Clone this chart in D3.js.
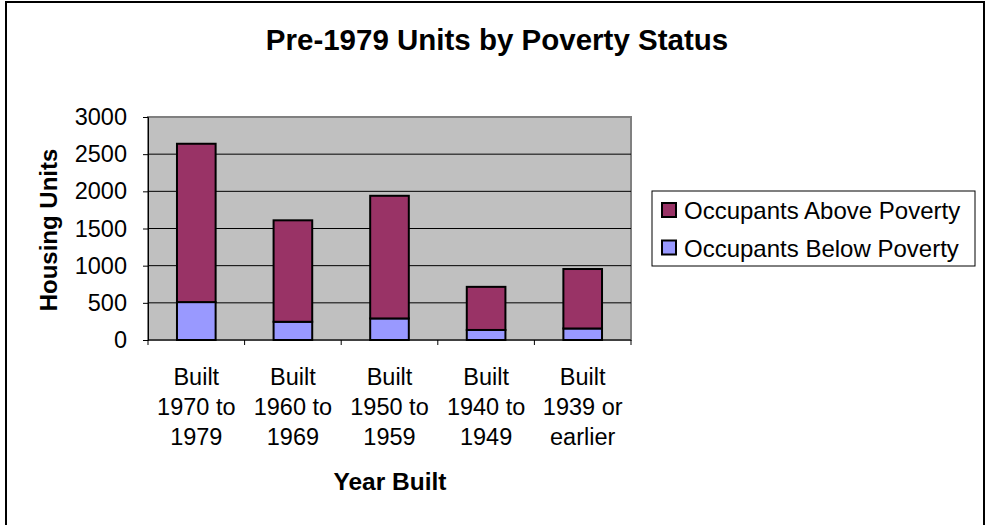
<!DOCTYPE html>
<html>
<head>
<meta charset="utf-8">
<script src="https://cdn.jsdelivr.net/npm/d3@7"></script>
<style>
  body { margin: 0; background: #fff; }
  text { font-family: Arial, "Liberation Sans", sans-serif; fill: #000; }
</style>
</head>
<body>
<script>
// chart data
const categories = ['Built 1970 to 1979', 'Built 1960 to 1969', 'Built 1950 to 1959', 'Built 1940 to 1949', 'Built 1939 or earlier'];
const categoryLines = [
  ['Built', '1970 to', '1979'],
  ['Built', '1960 to', '1969'],
  ['Built', '1950 to', '1959'],
  ['Built', '1940 to', '1949'],
  ['Built', '1939 or', 'earlier']
];
const belowPoverty = [510, 245, 290, 135, 155];
const abovePoverty = [2130, 1365, 1650, 580, 800];
const seriesNames = ['Occupants Above Poverty', 'Occupants Below Poverty'];
const yTicks = [0, 500, 1000, 1500, 2000, 2500, 3000];

const W = 989, H = 525;
const plot = { left: 148, right: 631, top: 117, bottom: 340 };

const svg = d3.select('body')
  .append('svg')
  .attr('width', W)
  .attr('height', H);

// outer frame
svg.append('rect')
  .attr('x', 6).attr('y', 2)
  .attr('width', 978).attr('height', H + 10)
  .attr('fill', '#fff')
  .attr('stroke', '#000')
  .attr('stroke-width', 2);

// scales
const x = d3.scaleBand()
  .domain(categories)
  .range([plot.left, plot.right])
  .paddingInner(0.6)
  .paddingOuter(0.3);

const xEdge = d3.scaleLinear()
  .domain([0, categories.length])
  .range([plot.left, plot.right]);

const y = d3.scaleLinear()
  .domain([0, 3000])
  .range([plot.bottom, plot.top]);

// plot area
svg.append('rect')
  .attr('x', plot.left).attr('y', plot.top)
  .attr('width', plot.right - plot.left)
  .attr('height', plot.bottom - plot.top)
  .attr('fill', '#C0C0C0')
  .attr('stroke', '#808080')
  .attr('stroke-width', 2);

// gridlines
svg.append('g')
  .selectAll('line')
  .data(yTicks.filter(d => d > 0 && d < 3000))
  .enter()
  .append('line')
  .attr('x1', plot.left).attr('x2', plot.right)
  .attr('y1', d => y(d)).attr('y2', d => y(d))
  .attr('stroke', '#000')
  .attr('stroke-width', 1);

// y axis
const yAxis = d3.axisLeft(y)
  .tickValues(yTicks)
  .tickSize(5)
  .tickPadding(16)
  .tickFormat(d3.format('d'));

const gy = svg.append('g')
  .attr('transform', `translate(${plot.left},0)`)
  .call(yAxis);
gy.select('.domain').attr('stroke', '#000').attr('stroke-width', 1);
gy.selectAll('.tick line').attr('stroke', '#000');
gy.selectAll('.tick text')
  .style('font-size', '23.5px')
  .style('font-family', 'Arial, "Liberation Sans", sans-serif')
  .attr('fill', '#000');

// stacked bars
const stackData = categories.map((c, i) => ({ cat: c, below: belowPoverty[i], above: abovePoverty[i] }));
const stack = d3.stack().keys(['below', 'above'])(stackData);
const colors = { below: '#9999FF', above: '#993366' };

svg.append('g')
  .selectAll('g')
  .data(stack)
  .enter()
  .append('g')
  .attr('fill', d => colors[d.key])
  .selectAll('rect')
  .data(d => d)
  .enter()
  .append('rect')
  .attr('x', d => x(d.data.cat))
  .attr('y', d => y(d[1]))
  .attr('width', x.bandwidth())
  .attr('height', d => y(d[0]) - y(d[1]))
  .attr('stroke', '#000')
  .attr('stroke-width', 2);

// x axis line and ticks
svg.append('line')
  .attr('x1', plot.left).attr('x2', plot.right)
  .attr('y1', plot.bottom).attr('y2', plot.bottom)
  .attr('stroke', '#000');

svg.append('g')
  .selectAll('line')
  .data(d3.range(categories.length + 1))
  .enter()
  .append('line')
  .attr('x1', d => xEdge(d)).attr('x2', d => xEdge(d))
  .attr('y1', plot.bottom).attr('y2', plot.bottom + 5)
  .attr('stroke', '#000');

// category labels
const catLabels = svg.append('g')
  .selectAll('text')
  .data(categories)
  .enter()
  .append('text')
  .attr('x', d => x(d) + x.bandwidth() / 2)
  .attr('y', 385)
  .attr('text-anchor', 'middle')
  .style('font-size', '23.5px');

catLabels.selectAll('tspan')
  .data((d, i) => categoryLines[i])
  .enter()
  .append('tspan')
  .attr('x', function() { return d3.select(this.parentNode).attr('x'); })
  .attr('dy', (d, i) => i === 0 ? 0 : 30)
  .text(d => d);

// titles
svg.append('text')
  .attr('x', 497)
  .attr('y', 50)
  .attr('text-anchor', 'middle')
  .style('font-size', '29.5px')
  .style('font-weight', 'bold')
  .text('Pre-1979 Units by Poverty Status');

svg.append('text')
  .attr('x', 390)
  .attr('y', 490)
  .attr('text-anchor', 'middle')
  .style('font-size', '24.5px')
  .style('font-weight', 'bold')
  .text('Year Built');

svg.append('text')
  .attr('transform', 'translate(57,230) rotate(-90)')
  .attr('text-anchor', 'middle')
  .style('font-size', '24px')
  .style('font-weight', 'bold')
  .text('Housing Units');

// legend
const legend = svg.append('g');
legend.append('rect')
  .attr('x', 652).attr('y', 191)
  .attr('width', 323).attr('height', 75)
  .attr('fill', '#fff')
  .attr('stroke', '#000')
  .attr('stroke-width', 1);

const legendItems = legend.selectAll('g.item')
  .data(seriesNames)
  .enter()
  .append('g')
  .attr('class', 'item')
  .attr('transform', (d, i) => `translate(0, ${i * 37.5})`);

legendItems.append('rect')
  .attr('x', 662).attr('y', 203)
  .attr('width', 14).attr('height', 14)
  .attr('fill', (d, i) => i === 0 ? colors.above : colors.below)
  .attr('stroke', '#000')
  .attr('stroke-width', 2);

legendItems.append('text')
  .attr('x', 684)
  .attr('y', 219)
  .style('font-size', '24px')
  .text(d => d);
</script>
</body>
</html>
